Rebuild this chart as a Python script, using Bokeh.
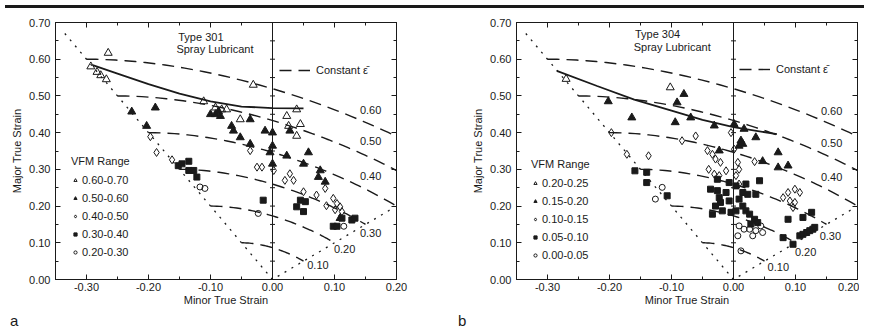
import numpy as np
from bokeh.plotting import figure
from bokeh.models import (Range1d, LinearAxis, FixedTicker, Span, Legend,
                          LegendItem, Div)
from bokeh.layouts import row, column
from bokeh.core.properties import value
from bokeh.embed import file_html
from bokeh.resources import INLINE

FONT = "Liberation Sans"
INK = "#1a1a1a"

# ---------------- axes ----------------
x_ticks = [-0.30, -0.20, -0.10, 0.00, 0.10, 0.20]
x_tick_labels = ["-0.30", "-0.20", "-0.10", "0.00", "0.10", "0.20"]
x_minor = [-0.35, -0.25, -0.15, -0.05, 0.05, 0.15]
y_ticks = [0.00, 0.10, 0.20, 0.30, 0.40, 0.50, 0.60, 0.70]
y_tick_labels = ["0.00", "0.10", "0.20", "0.30", "0.40", "0.50", "0.60", "0.70"]
y_minor = [0.05, 0.15, 0.25, 0.35, 0.45, 0.55, 0.65]

# constant effective strain levels
strain_levels = [0.10, 0.20, 0.30, 0.40, 0.50, 0.60]
strain_labels = ["0.10", "0.20", "0.30", "0.40", "0.50", "0.60"]

# uniaxial / equibiaxial guide lines (dotted)
guide_minor = [-0.335, 0.0, 0.195]
guide_major = [0.670, 0.0, 0.195]

# ---------------- panel a: Type 301 ----------------
a_title = ["Type 301", "Spray Lubricant"]
a_vfm = ["0.60-0.70", "0.50-0.60", "0.40-0.50", "0.30-0.40", "0.20-0.30"]

a_flc_minor = [-0.290, -0.250, -0.200, -0.150, -0.100, -0.050, 0.000, 0.050]
a_flc_major = [0.584, 0.561, 0.532, 0.506, 0.485, 0.471, 0.467, 0.466]

a_g1_minor = [-0.265, -0.293, -0.283, -0.277, -0.268, -0.031, -0.111, -0.092, -0.082,
              -0.074, -0.052, 0.023, 0.039, 0.026, 0.045, 0.039]
a_g1_major = [0.617, 0.580, 0.565, 0.556, 0.545, 0.530, 0.485, 0.468, 0.463,
              0.463, 0.436, 0.445, 0.463, 0.418, 0.423, 0.391]

a_g2_minor = [-0.227, -0.189, -0.203, -0.100, -0.092, -0.087, -0.084, -0.036, -0.066,
              -0.063, -0.052, -0.036, -0.012, 0.000, 0.000, -0.004, 0.000, 0.028,
              0.023, 0.058, 0.050, 0.077, 0.074, 0.085, 0.109]
a_g2_major = [0.457, 0.468, 0.418, 0.450, 0.450, 0.458, 0.445, 0.436, 0.418,
              0.405, 0.387, 0.369, 0.405, 0.400, 0.364, 0.346, 0.315, 0.405,
              0.337, 0.346, 0.315, 0.297, 0.279, 0.266, 0.167]

a_g3_minor = [-0.197, -0.187, -0.162, -0.036, -0.025, -0.017, 0.002, 0.028, 0.020,
              0.034, 0.050, 0.071, 0.087, 0.098, 0.104, 0.109, 0.112, 0.101, 0.085]
a_g3_major = [0.389, 0.346, 0.326, 0.351, 0.306, 0.306, 0.297, 0.288, 0.270,
              0.270, 0.239, 0.230, 0.201, 0.221, 0.207, 0.198, 0.185, 0.190, 0.248]

a_g4_minor = [-0.152, -0.146, -0.135, -0.135, -0.127, -0.122, -0.015, 0.045, 0.053,
              0.039, 0.050, 0.098, 0.104, 0.112, 0.128, 0.133]
a_g4_major = [0.310, 0.315, 0.322, 0.297, 0.297, 0.279, 0.216, 0.216, 0.212,
              0.198, 0.185, 0.145, 0.145, 0.167, 0.162, 0.167]

a_g5_minor = [-0.117, -0.109, -0.023, 0.115]
a_g5_major = [0.252, 0.248, 0.180, 0.145]

a_lab_x = [0.056, 0.099, 0.141, 0.141, 0.141, 0.141]
a_lab_y = [0.039, 0.082, 0.128, 0.282, 0.377, 0.463]

# ---------------- panel b: Type 304 ----------------
b_title = ["Type 304", "Spray Lubricant"]
b_vfm = ["0.20-0.25", "0.15-0.20", "0.10-0.15", "0.05-0.10", "0.00-0.05"]

b_flc_minor = [-0.285, -0.220, -0.160, -0.100, -0.050, 0.000, 0.070]
b_flc_major = [0.568, 0.527, 0.490, 0.460, 0.435, 0.415, 0.396]

b_g1_minor = [-0.102, -0.270]
b_g1_major = [0.523, 0.546]

b_g2_minor = [-0.202, -0.080, -0.091, -0.164, -0.094, -0.069, -0.031, 0.001, 0.012,
              0.015, 0.009, 0.036, 0.072, 0.072, 0.088, -0.023, 0.017, 0.047]
b_g2_major = [0.485, 0.505, 0.482, 0.441, 0.428, 0.441, 0.419, 0.423, 0.378,
              0.369, 0.364, 0.387, 0.346, 0.305, 0.310, 0.351, 0.410, 0.322]

b_g3_minor = [-0.197, -0.172, -0.137, -0.083, -0.061, -0.004, -0.042, -0.034, -0.029,
              -0.021, -0.040, -0.031, -0.023, -0.012, 0.001, 0.007, 0.009, 0.004,
              0.009, 0.034, 0.080, 0.088, 0.099, 0.107, 0.091, 0.099, 0.096]
b_g3_major = [0.400, 0.341, 0.337, 0.378, 0.391, 0.400, 0.351, 0.341, 0.328,
              0.319, 0.300, 0.287, 0.283, 0.296, 0.355, 0.319, 0.300, 0.283,
              0.260, 0.321, 0.223, 0.237, 0.246, 0.237, 0.214, 0.210, 0.196]

b_g4_minor = [-0.159, -0.140, -0.140, -0.107, -0.037, -0.026, -0.023, -0.021, -0.007,
              -0.029, -0.018, -0.004, -0.034, -0.026, -0.007, 0.004, 0.015, 0.023,
              0.009, 0.015, 0.020, 0.026, 0.034, 0.039, 0.036, -0.012, 0.004, 0.028,
              0.042, 0.080, 0.096, 0.088, 0.112, 0.126, 0.107, 0.112, 0.118, 0.123,
              0.128, 0.131, 0.020]
b_g4_major = [0.296, 0.292, 0.264, 0.228, 0.246, 0.242, 0.223, 0.210, 0.214,
              0.200, 0.187, 0.183, 0.178, 0.273, 0.264, 0.255, 0.237, 0.232,
              0.219, 0.200, 0.187, 0.178, 0.164, 0.155, 0.232, 0.237, 0.187, 0.151,
              0.269, 0.114, 0.096, 0.164, 0.169, 0.183, 0.119, 0.123, 0.128, 0.133,
              0.137, 0.142, 0.260]

b_g5_minor = [-0.115, -0.126, 0.009, 0.017, 0.026, 0.036, 0.044, 0.047, 0.007,
              0.031, 0.012]
b_g5_major = [0.251, 0.219, 0.146, 0.137, 0.137, 0.133, 0.146, 0.128, 0.119,
              0.119, 0.078]

b_lab_x = [0.055, 0.099, 0.139, 0.141, 0.141, 0.141]
b_lab_y = [0.033, 0.076, 0.119, 0.278, 0.373, 0.460]

panel_letters = ["a", "b"]

MARKERS = [("triangle", False, 8), ("triangle", True, 8), ("diamond", False, 8),
           ("square", True, 6), ("circle", False, 6)]


def const_strain_curve(level):
    # von Mises iso-effective-strain contour between uniaxial and equibiaxial paths
    beta = np.linspace(-0.5, 1.0, 60)
    e1 = level * np.sqrt(3.0) / 2.0 / np.sqrt(1.0 + beta + beta ** 2)
    return list(beta * e1), list(e1)


def mirror_axis(ticks, minor):
    return LinearAxis(ticker=FixedTicker(ticks=ticks, minor_ticks=minor),
                      major_label_overrides={t: "" for t in ticks},
                      major_label_text_font_size="1px", major_label_standoff=0,
                      axis_label_standoff=0)


def build(width, mb_left, mb_right, mb_top, title, title_x, title_y, vfm, flc_x, flc_y,
          groups, lab_x, lab_y, legend_loc, const_loc):
    p = figure(width=width, height=296, x_range=Range1d(-0.35, 0.20),
               y_range=Range1d(0.0, 0.70), output_backend="svg",
               toolbar_location=None, min_border_left=mb_left,
               min_border_right=mb_right, min_border_top=mb_top,
               min_border_bottom=30, background_fill_color="white",
               border_fill_color="white")
    p.grid.visible = False
    p.outline_line_color = INK

    p.xaxis.ticker = FixedTicker(ticks=x_ticks, minor_ticks=x_minor)
    p.yaxis.ticker = FixedTicker(ticks=y_ticks, minor_ticks=y_minor)
    p.xaxis.major_label_overrides = dict(zip(x_ticks, x_tick_labels))
    p.yaxis.major_label_overrides = dict(zip(y_ticks, y_tick_labels))
    p.xaxis.axis_label = "Minor True Strain"
    p.yaxis.axis_label = "Major True Strain"
    p.xaxis.major_label_standoff = 3
    p.yaxis.major_label_standoff = 5
    p.xaxis.axis_label_standoff = 0
    p.yaxis.axis_label_standoff = 3
    p.xaxis.major_label_text_font_size = "11px"
    p.yaxis.major_label_text_font_size = "11px"

    p.add_layout(mirror_axis(x_ticks, x_minor), "above")
    p.add_layout(mirror_axis(y_ticks, y_minor), "right")

    for ax in p.axis:
        ax.major_tick_in = 5
        ax.major_tick_out = 0
        ax.minor_tick_in = 3
        ax.minor_tick_out = 0
        ax.axis_line_color = INK
        ax.major_tick_line_color = INK
        ax.minor_tick_line_color = INK
        ax.major_label_text_font = FONT
        ax.major_label_text_color = INK
        ax.axis_label_text_font = FONT
        ax.axis_label_text_font_style = "normal"
        ax.axis_label_text_font_size = "11px"
        ax.axis_label_text_color = INK

    # vertical line at zero minor strain with small tick marks
    p.add_layout(Span(location=0.0, dimension="height", line_color=INK, line_width=1))
    p.scatter(x=[x_ticks[3]] * (len(y_ticks) + len(y_minor)), y=y_ticks + y_minor,
              marker="dash", size=5, line_color=INK, line_width=1)

    # dotted guide lines
    p.line(guide_minor, guide_major, line_color=INK, line_width=1.3, line_dash="2 6")

    # constant effective strain contours
    xs, ys = [], []
    for lv in strain_levels:
        cx, cy = const_strain_curve(lv)
        xs.append(cx)
        ys.append(cy)
    const_r = p.multi_line(xs, ys, line_color=INK, line_width=1.4, line_dash="12 7")

    # forming limit curve
    p.line(flc_x, flc_y, line_color=INK, line_width=1.8)

    # data
    items = []
    for (mk, filled, sz), (gx, gy), lab in zip(MARKERS, groups, vfm):
        r = p.scatter(gx, gy, marker=mk, size=sz, line_color=INK, line_width=1,
                      fill_color=INK if filled else None)
        items.append(LegendItem(label=lab, renderers=[r]))

    leg = Legend(items=items, title="VFM Range", location=legend_loc,
                 orientation="vertical", padding=0, margin=0, spacing=0,
                 glyph_width=8, glyph_height=18, label_height=18, label_standoff=3,
                 title_standoff=4, border_line_color=None, background_fill_alpha=0,
                 label_text_font=FONT, label_text_font_size="11px",
                 label_text_color=INK, title_text_font=FONT,
                 title_text_font_size="11px", title_text_font_style="normal",
                 title_text_color=INK)
    p.add_layout(leg)

    cleg = Legend(items=[LegendItem(label="Constant \u03b5\u0304", renderers=[const_r])],
                  location=const_loc, padding=0, margin=0, spacing=0,
                  glyph_width=31, glyph_height=18, label_height=18, label_standoff=6,
                  border_line_color=None, background_fill_alpha=0,
                  label_text_font=FONT, label_text_font_size="11px",
                  label_text_color=INK)
    p.add_layout(cleg)

    # level labels
    p.text(x=lab_x, y=lab_y, text=strain_labels, text_font=value(FONT),
           text_font_size="11px", text_baseline="middle", text_align="left",
           text_color=INK)

    # title text
    p.text(x=title_x, y=title_y, text=title, text_font=value(FONT),
           text_font_size="11px", text_baseline="middle", text_align="left",
           text_color=INK)
    return p


pa = build(432, 55, 36, 6, a_title, [-0.152, -0.155], [0.660, 0.628], a_vfm,
           a_flc_minor, a_flc_major,
           [(a_g1_minor, a_g1_major), (a_g2_minor, a_g2_major), (a_g3_minor, a_g3_major),
            (a_g4_minor, a_g4_major), (a_g5_minor, a_g5_major)],
           a_lab_x, a_lab_y, (16, 18), (224, 200))

pb = build(427, 84, 2, 9, b_title, [-0.159, -0.161], [0.668, 0.632], b_vfm,
           b_flc_minor, b_flc_major,
           [(b_g1_minor, b_g1_major), (b_g2_minor, b_g2_major), (b_g3_minor, b_g3_major),
            (b_g4_minor, b_g4_major), (b_g5_minor, b_g5_major)],
           b_lab_x, b_lab_y, (15, 15), (223, 201))

letter_style = {"font-family": FONT, "font-size": "15px", "line-height": "13px",
                "color": INK, "overflow": "visible"}
la = Div(text=panel_letters[0], width=432, height=13,
         styles=dict(letter_style, **{"padding-left": "5px"}))
lb = Div(text=panel_letters[1], width=427, height=13,
         styles=dict(letter_style, **{"padding-left": "11px"}))

rule = Div(text="", width=859, height=3, styles={"background-color": INK})
layout = column(rule, row(pa, pb, spacing=0), row(la, lb, spacing=0), spacing=0)

with open("out.html", "w") as f:
    f.write(file_html(layout, INLINE))
